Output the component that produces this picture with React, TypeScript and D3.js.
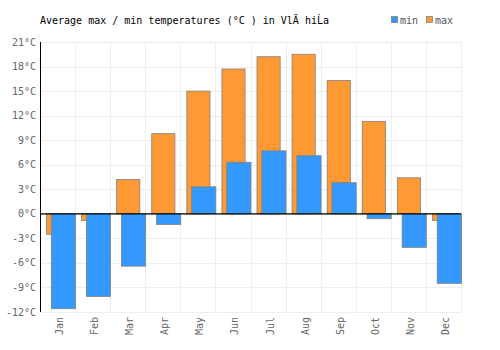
import * as d3 from "d3"
import { useEffect, useRef } from "react"

const MONTHS = ["Jan", "Feb", "Mar", "Apr", "May", "Jun", "Jul", "Aug", "Sep", "Oct", "Nov", "Dec"]
const MAX_TEMPS = [-2.5, -0.8, 4.2, 9.8, 15.0, 17.7, 19.2, 19.5, 16.3, 11.3, 4.4, -0.8]
const MIN_TEMPS = [-11.6, -10.1, -6.4, -1.3, 3.3, 6.3, 7.7, 7.1, 3.8, -0.6, -4.1, -8.5]
const Y_TICKS = [-12, -9, -6, -3, 0, 3, 6, 9, 12, 15, 18, 21]

const FONT = "'DejaVu Sans Mono', monospace"

export default function App() {
  const ref = useRef<SVGSVGElement | null>(null)

  useEffect(() => {
    if (!ref.current) return
    const width = 500
    const height = 350
    const margin = { top: 42, right: 39, bottom: 38, left: 40 }

    const svg = d3.select(ref.current)
    svg.selectAll("*").remove()

    const x = d3
      .scaleBand<string>()
      .domain(MONTHS)
      .range([margin.left, width - margin.right])

    const y = d3
      .scaleLinear()
      .domain([-12, 21])
      .range([height - margin.bottom, margin.top])

    const bw = x.bandwidth()

    // grid
    const grid = svg.append("g").attr("stroke", "#eeeeee").attr("stroke-width", 1)
    grid
      .selectAll("line.h")
      .data(Y_TICKS)
      .join("line")
      .attr("x1", margin.left)
      .attr("x2", width - margin.right)
      .attr("y1", (d) => Math.round(y(d)) + 0.5)
      .attr("y2", (d) => Math.round(y(d)) + 0.5)
    grid
      .selectAll("line.v")
      .data(MONTHS)
      .join("line")
      .attr("x1", (d) => Math.round(x(d)! + bw) + 0.5)
      .attr("x2", (d) => Math.round(x(d)! + bw) + 0.5)
      .attr("y1", margin.top)
      .attr("y2", height - margin.bottom)

    // max bars
    svg
      .append("g")
      .selectAll("rect")
      .data(MONTHS)
      .join("rect")
      .attr("x", (d) => x(d)! + 6.5)
      .attr("width", bw * 0.66)
      .attr("y", (_, i) => y(Math.max(0, MAX_TEMPS[i])))
      .attr("height", (_, i) => Math.abs(y(MAX_TEMPS[i]) - y(0)))
      .attr("fill", "#ff9933")
      .attr("stroke", "#808080")
      .attr("stroke-width", 0.8)

    // min bars
    svg
      .append("g")
      .selectAll("rect")
      .data(MONTHS)
      .join("rect")
      .attr("x", (d) => x(d)! + 11.3)
      .attr("width", bw * 0.69)
      .attr("y", (_, i) => y(Math.max(0, MIN_TEMPS[i])))
      .attr("height", (_, i) => Math.abs(y(MIN_TEMPS[i]) - y(0)))
      .attr("fill", "#3399ff")
      .attr("stroke", "#808080")
      .attr("stroke-width", 0.8)

    // zero line and left axis
    svg
      .append("line")
      .attr("x1", margin.left)
      .attr("x2", width - margin.right)
      .attr("y1", y(0))
      .attr("y2", y(0))
      .attr("stroke", "#000")
      .attr("stroke-width", 1.2)
    svg
      .append("line")
      .attr("x1", margin.left + 0.5)
      .attr("x2", margin.left + 0.5)
      .attr("y1", margin.top)
      .attr("y2", height - margin.bottom)
      .attr("stroke", "#000")
      .attr("stroke-width", 1)

    // y labels
    svg
      .append("g")
      .selectAll("text")
      .data(Y_TICKS)
      .join("text")
      .attr("x", margin.left - 4)
      .attr("y", (d) => y(d) + 3.5)
      .attr("text-anchor", "end")
      .attr("font-family", FONT)
      .attr("font-size", 10)
      .attr("fill", "#666")
      .text((d) => `${d}°C`)

    // x labels
    svg
      .append("g")
      .selectAll("text")
      .data(MONTHS)
      .join("text")
      .attr("transform", (d) => `translate(${x(d)! + bw / 2 + 5.5},${height - margin.bottom + 5}) rotate(-90)`)
      .attr("text-anchor", "end")
      .attr("font-family", FONT)
      .attr("font-size", 10)
      .attr("fill", "#666")
      .text((d) => d)

    // title
    svg
      .append("text")
      .attr("x", 40)
      .attr("y", 24)
      .attr("font-family", FONT)
      .attr("font-size", 10)
      .attr("fill", "#000")
      .text("Average max / min temperatures (°C ) in VlÄ hiĹa")

    // legend
    const legend = [
      { label: "min", color: "#3399ff", x: 391 },
      { label: "max", color: "#ff9933", x: 426 },
    ]
    const lg = svg.append("g")
    legend.forEach((l) => {
      lg.append("rect")
        .attr("x", l.x + 0.5)
        .attr("y", 16.5)
        .attr("width", 6)
        .attr("height", 6)
        .attr("fill", l.color)
        .attr("stroke", "#808080")
        .attr("stroke-width", 0.8)
      lg.append("text")
        .attr("x", l.x + 9)
        .attr("y", 24)
        .attr("font-family", FONT)
        .attr("font-size", 10)
        .attr("fill", "#555")
        .text(l.label)
    })
  }, [])

  return (
    <svg
      ref={ref}
      width={500}
      height={350}
      style={{ position: "absolute", left: 0, top: 0 }}
    />
  )
}
